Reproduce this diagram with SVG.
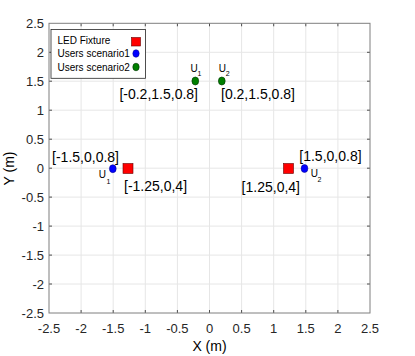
<svg xmlns="http://www.w3.org/2000/svg" width="415" height="356" viewBox="0 0 415 356">
<style>
text{font-family:"Liberation Sans",Arial,sans-serif;fill:#262626}
.tick{font-size:13px}
.lab{font-size:14px;fill:#000}
.leg{font-size:10px;fill:#000}
.u{font-size:10px;fill:#000}
.us{font-size:7px;fill:#000}
.grid line{stroke:#e6e6e6;stroke-width:1}
.ax{stroke:#7f7f7f;stroke-width:1;fill:none}
.tk line{stroke:#4d4d4d;stroke-width:1}
.red{fill:#ff0000;stroke:#600;stroke-width:0.6}
.blue{fill:#0000ff;stroke:#000080;stroke-width:0.5}
.green{fill:#008000;stroke:#003300;stroke-width:0.6}
</style>
<rect width="415" height="356" fill="#fff"/>
<g id="axes">
<rect x="49" y="23.3" width="321" height="289.7" fill="#fff"/>
<g class="grid">
<line x1="81.1" y1="23.3" x2="81.1" y2="313"/>
<line x1="113.2" y1="23.3" x2="113.2" y2="313"/>
<line x1="145.3" y1="23.3" x2="145.3" y2="313"/>
<line x1="177.4" y1="23.3" x2="177.4" y2="313"/>
<line x1="209.5" y1="23.3" x2="209.5" y2="313"/>
<line x1="241.6" y1="23.3" x2="241.6" y2="313"/>
<line x1="273.7" y1="23.3" x2="273.7" y2="313"/>
<line x1="305.8" y1="23.3" x2="305.8" y2="313"/>
<line x1="337.9" y1="23.3" x2="337.9" y2="313"/>
<line x1="49" y1="52.3" x2="370" y2="52.3"/>
<line x1="49" y1="81.2" x2="370" y2="81.2"/>
<line x1="49" y1="110.2" x2="370" y2="110.2"/>
<line x1="49" y1="139.2" x2="370" y2="139.2"/>
<line x1="49" y1="168.2" x2="370" y2="168.2"/>
<line x1="49" y1="197.1" x2="370" y2="197.1"/>
<line x1="49" y1="226.1" x2="370" y2="226.1"/>
<line x1="49" y1="255.1" x2="370" y2="255.1"/>
<line x1="49" y1="284" x2="370" y2="284"/>
</g>
<g class="tk">
<path d="M81.1 313v-3M113.2 313v-3M145.3 313v-3M177.4 313v-3M209.5 313v-3M241.6 313v-3M273.7 313v-3M305.8 313v-3M337.9 313v-3M81.1 23.3v3M113.2 23.3v3M145.3 23.3v3M177.4 23.3v3M209.5 23.3v3M241.6 23.3v3M273.7 23.3v3M305.8 23.3v3M337.9 23.3v3M49 52.3h3M49 81.2h3M49 110.2h3M49 139.2h3M49 168.2h3M49 197.1h3M49 226.1h3M49 255.1h3M49 284h3M370 52.3h-3M370 81.2h-3M370 110.2h-3M370 139.2h-3M370 168.2h-3M370 197.1h-3M370 226.1h-3M370 255.1h-3M370 284h-3" stroke="#4d4d4d" stroke-width="1" fill="none"/>
</g>
<rect class="ax" x="49" y="23.3" width="321" height="289.7"/>
<g class="tick" text-anchor="middle">
<text x="49" y="332.5">-2.5</text>
<text x="81.1" y="332.5">-2</text>
<text x="113.2" y="332.5">-1.5</text>
<text x="145.3" y="332.5">-1</text>
<text x="177.4" y="332.5">-0.5</text>
<text x="209.5" y="332.5">0</text>
<text x="241.6" y="332.5">0.5</text>
<text x="273.7" y="332.5">1</text>
<text x="305.8" y="332.5">1.5</text>
<text x="337.9" y="332.5">2</text>
<text x="370" y="332.5">2.5</text>
</g>
<g class="tick" text-anchor="end">
<text x="44" y="28">2.5</text>
<text x="44" y="57">2</text>
<text x="44" y="85.9">1.5</text>
<text x="44" y="114.9">1</text>
<text x="44" y="143.9">0.5</text>
<text x="44" y="172.9">0</text>
<text x="44" y="201.8">-0.5</text>
<text x="44" y="230.8">-1</text>
<text x="44" y="259.8">-1.5</text>
<text x="44" y="288.7">-2</text>
<text x="44" y="317.7">-2.5</text>
</g>
<text class="lab" x="209.5" y="351" text-anchor="middle">X (m)</text>
<text class="lab" transform="translate(13.5,168.5) rotate(-90)" text-anchor="middle">Y (m)</text>
</g>
<g id="fixture-left">
<rect class="red" x="123" y="163.5" width="10" height="10"/>
<text class="lab" x="124" y="190.5">[-1.25,0,4]</text>
</g>
<g id="fixture-right">
<rect class="red" x="283.5" y="163.5" width="10" height="10"/>
<text class="lab" x="300" y="192" text-anchor="end">[1.25,0,4]</text>
</g>
<g id="user1-s1">
<ellipse class="blue" cx="112.8" cy="168.7" rx="3.4" ry="4"/>
<text class="lab" x="119" y="162" text-anchor="end">[-1.5,0,0.8]</text>
<text class="u" x="98.8" y="177.5">U</text><text class="us" x="106.5" y="183.5">1</text>
</g>
<g id="user2-s1">
<ellipse class="blue" cx="304.5" cy="168.5" rx="3.4" ry="4"/>
<text class="lab" x="299.3" y="161">[1.5,0,0.8]</text>
<text class="u" x="310.8" y="176.8">U</text><text class="us" x="317.5" y="182">2</text>
</g>
<g id="user1-s2">
<ellipse class="green" cx="195.3" cy="81" rx="3.4" ry="4"/>
<text class="lab" x="198" y="99" text-anchor="end">[-0.2,1.5,0.8]</text>
<text class="u" x="190.5" y="72">U</text><text class="us" x="197.5" y="75.5">1</text>
</g>
<g id="user2-s2">
<ellipse class="green" cx="221.8" cy="81" rx="3.4" ry="4"/>
<text class="lab" x="221" y="99">[0.2,1.5,0.8]</text>
<text class="u" x="218.8" y="72">U</text><text class="us" x="225.8" y="75.5">2</text>
</g>
<g id="legend">
<rect x="51" y="29.5" width="94.5" height="48.8" fill="#fff" stroke="#262626" stroke-width="0.8"/>
<text class="leg" x="57.5" y="44.3">LED Fixture</text>
<text class="leg" x="57.5" y="57">Users scenario1</text>
<text class="leg" x="57.5" y="70.5">Users scenario2</text>
<rect class="red" x="131.5" y="37.5" width="9" height="8.5"/>
<ellipse class="blue" cx="136" cy="53.5" rx="3.2" ry="3.8"/>
<ellipse class="green" cx="136" cy="67" rx="3.2" ry="3.8"/>
</g>
<g id="connectors"/>
</svg>
